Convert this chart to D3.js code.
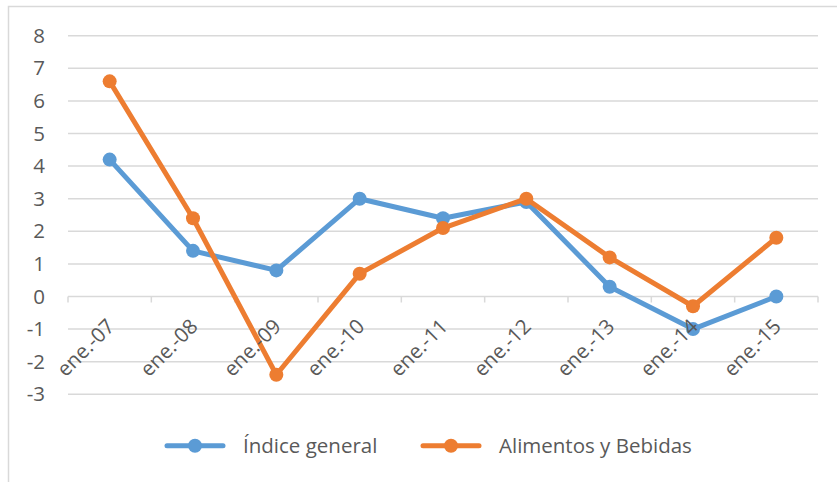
<!DOCTYPE html>
<html><head><meta charset="utf-8">
<script src="https://cdn.jsdelivr.net/npm/d3@7"></script>
<style>
body{margin:0;background:#fff;}
text{font-family:"Open Sans","Noto Sans",sans-serif;fill:#595959;}
</style></head>
<body><svg id="c" width="837" height="482"></svg>
<script>
const categories = ["ene.-07","ene.-08","ene.-09","ene.-10","ene.-11","ene.-12","ene.-13","ene.-14","ene.-15"];
const indiceGeneral = [4.2, 1.4, 0.8, 3.0, 2.4, 2.9, 0.3, -1.0, 0.0];
const alimentosBebidas = [6.6, 2.4, -2.4, 0.7, 2.1, 3.0, 1.2, -0.3, 1.8];
const seriesNames = ["Índice general", "Alimentos y Bebidas"];
const seriesColors = ["#5B9BD5", "#ED7D31"];
const yTicks = [8,7,6,5,4,3,2,1,0,-1,-2,-3];

const svg = d3.select("#c");
// frame
svg.append("path").attr("d","M8.5,482 V6.5 H837").attr("fill","none").attr("stroke","#d9d9d9").attr("stroke-width",1.5);

const x = d3.scaleBand().domain(categories).range([68, 818]);
const y = d3.scaleLinear().domain([-3, 8]).range([394.3, 35.7]);

// gridlines
svg.append("g").selectAll("line").data(yTicks).join("line")
  .attr("x1",68).attr("x2",818).attr("y1",d=>y(d)).attr("y2",d=>y(d))
  .attr("stroke","#d9d9d9").attr("stroke-width",1.5);

// y labels
svg.append("g").selectAll("text").data(yTicks).join("text")
  .attr("x",45).attr("y",d=>y(d)).attr("dy","0.35em").attr("text-anchor","end")
  .attr("font-size",20.5).text(d=>d);

// category ticks on zero line
const tickPos = categories.map(c=>x(c)).concat([x(categories[categories.length-1])+x.bandwidth()]);
svg.append("g").selectAll("line").data(tickPos).join("line")
  .attr("x1",d=>d).attr("x2",d=>d).attr("y1",y(0)).attr("y2",y(0)+6)
  .attr("stroke","#d9d9d9").attr("stroke-width",1.5);

const line = d3.line().x((d,i)=>x(categories[i])+x.bandwidth()/2).y(d=>y(d));
[indiceGeneral, alimentosBebidas].forEach((data,k)=>{
  const g = svg.append("g");
  g.append("path").attr("d",line(data)).attr("fill","none").attr("stroke",seriesColors[k])
    .attr("stroke-width",5).attr("stroke-linejoin","round").attr("stroke-linecap","round");
  g.selectAll("circle").data(data).join("circle")
    .attr("cx",(d,i)=>x(categories[i])+x.bandwidth()/2).attr("cy",d=>y(d)).attr("r",7)
    .attr("fill",seriesColors[k]);
});

// category labels rotated (drawn above the series)
svg.append("g").selectAll("text").data(categories).join("text")
  .attr("transform",d=>`translate(${x(d)+x.bandwidth()/2+1},${y(0)+26}) rotate(-45)`)
  .attr("text-anchor","end").attr("dy","0.35em").attr("font-size",20.5).text(d=>d);

// legend
const legX = [167, 423];
seriesNames.forEach((n,k)=>{
  const g = svg.append("g");
  g.append("line").attr("x1",legX[k]).attr("x2",legX[k]+56).attr("y1",445.7).attr("y2",445.7)
    .attr("stroke",seriesColors[k]).attr("stroke-width",5).attr("stroke-linecap","round");
  g.append("circle").attr("cx",legX[k]+28).attr("cy",445.7).attr("r",7).attr("fill",seriesColors[k]);
  g.append("text").attr("x",legX[k]+76).attr("y",445.7).attr("dy","0.35em").attr("font-size",20.5).text(n);
});
</script></body></html>
